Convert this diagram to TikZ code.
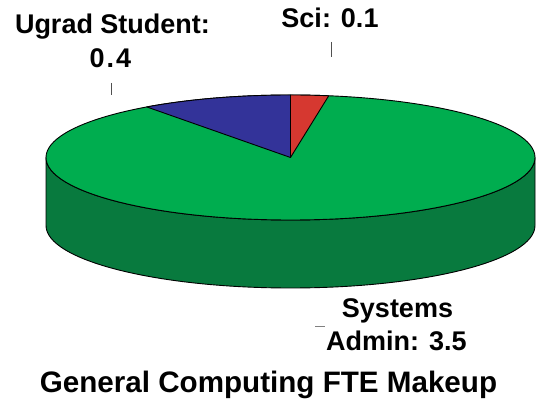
\documentclass[tikz,border=0pt]{standalone}
\usepackage{fontspec}
\setmainfont{Liberation Sans}
\definecolor{topgreen}{RGB}{0,173,79}
\definecolor{sidegreen}{RGB}{8,122,62}
\definecolor{sliceblue}{RGB}{51,51,153}
\definecolor{slicered}{RGB}{214,56,48}
\definecolor{tickgray}{RGB}{80,80,80}
\tikzset{
  pieedge/.style={draw=black, line width=0.9pt, line join=round},
  lbl/.style={anchor=base, inner sep=0pt, font=\fontsize{27}{30}\selectfont\bfseries},
  ttl/.style={anchor=base, inner sep=0pt, font=\fontsize{29.6}{33}\selectfont\bfseries},
  tick/.style={draw=tickgray, line width=0.9pt}
}
\begin{document}
\begin{tikzpicture}[x=1pt,y=1pt]
\useasboundingbox (0,0) rectangle (538,404);
% geometry
\coordinate (C) at (290.5,246.5);
\coordinate (Cb) at (290.5,178.5);
% side of the cylinder
\filldraw[pieedge, fill=sidegreen] (46,246.5) -- (46,178.5)
  arc[start angle=180, end angle=360, x radius=244.5, y radius=62.5]
  -- (535,246.5)
  arc[start angle=360, end angle=180, x radius=244.5, y radius=62.5] -- cycle;
% top
\filldraw[pieedge, fill=topgreen] (C) ellipse[x radius=244.5, y radius=62.5];
% blue slice (Ugrad Student)
\filldraw[pieedge, fill=sliceblue] (C) -- ++(0,62.5)
  arc[start angle=90, end angle=126, x radius=244.5, y radius=62.5] -- cycle;
% red slice (Sci)
\filldraw[pieedge, fill=slicered] (C) -- ++(0,62.5)
  arc[start angle=90, end angle=81, x radius=244.5, y radius=62.5] -- cycle;
% labels
\node[lbl] (ugrad) at (112.5,370) {Ugrad Student:};
\node[lbl] (ugradv) at (110.5,336.5) {0\kern2pt.\kern2pt4};
\node[lbl] (sci) at (330,376.5) {Sci: 0.1};
\node[lbl] (sys) at (397.5,86) {Systems};
\node[lbl] (sysv) at (396.5,53) {Admin: 3.5};
\node[ttl] (title) at (268.5,11) {General Computing FTE Makeup};
% leader ticks
\coordinate (ut1) at (111.7,321);
\coordinate (ut2) at (111.7,309);
\coordinate (st1) at (331,362);
\coordinate (st2) at (331,347);
\coordinate (yt1) at (315,77.3);
\coordinate (yt2) at (325,77.3);
\draw[tick] (ut1) -- (ut2);
\draw[tick] (st1) -- (st2);
\draw[tick, draw=gray, line width=1.3pt] (yt1) -- (yt2);
\end{tikzpicture}
\end{document}
